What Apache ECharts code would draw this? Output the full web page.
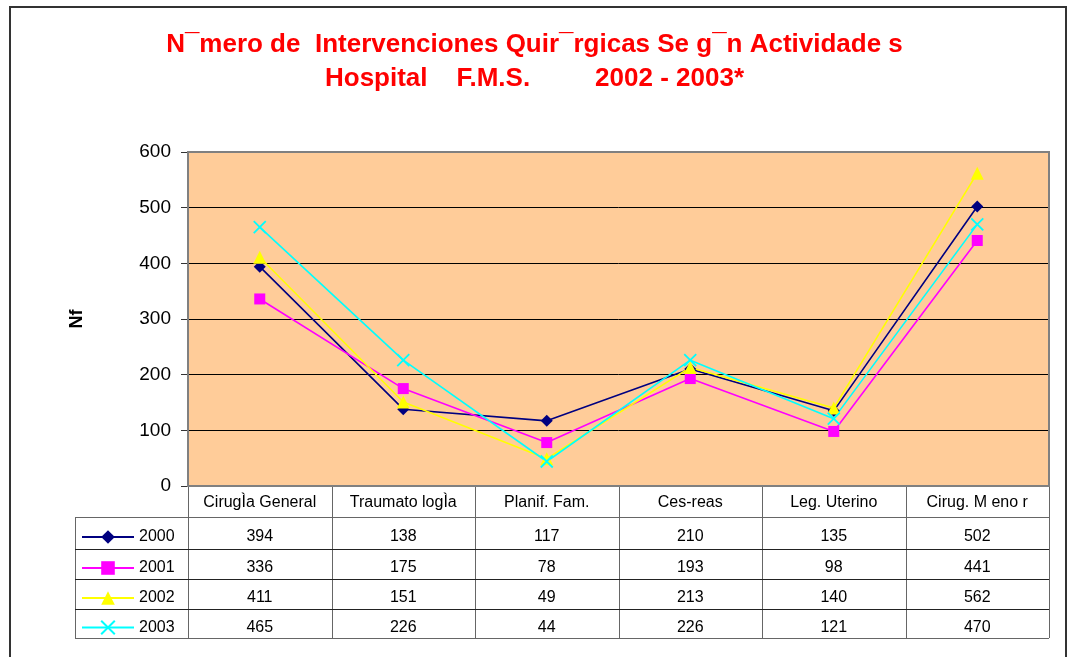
<!DOCTYPE html>
<html>
<head>
<meta charset="utf-8">
<script src="https://cdn.jsdelivr.net/npm/echarts@6/dist/echarts.min.js"></script>
<style>
html,body{margin:0;padding:0;background:#fff;}
#main{width:1069px;height:657px;}
</style>
</head>
<body>
<div id="main"></div>
<script>
// categorias y datos
var categorias = ["CirugÌa General", "Traumato logÌa", "Planif. Fam.", "Ces-reas", "Leg. Uterino", "Cirug. M eno r"];
var anios = ["2000", "2001", "2002", "2003"];
var datos2000 = [394, 138, 117, 210, 135, 502];
var datos2001 = [336, 175, 78, 193, 98, 441];
var datos2002 = [411, 151, 49, 213, 140, 562];
var datos2003 = [465, 226, 44, 226, 121, 470];
var ejeY = [0, 100, 200, 300, 400, 500, 600];

var series_datos = [datos2000, datos2001, datos2002, datos2003];
var colores = ["#000080", "#FF00FF", "#FFFF00", "#00FFFF"];
var simbolos = ["diamond", "rect", "triangle", "path://M0,0L10,10M10,0L0,10"];
var tamanos = [12, 11, 13, 12];

var fuente = "Arial, 'Liberation Sans', sans-serif";
var filas = [517, 549, 579, 609, 638]; // lineas de la tabla
var myChart = echarts.init(document.getElementById("main"));

var series = [];
var leyendas = [];
for (var i = 0; i < anios.length; i++) {
    series.push({
        name: anios[i],
        type: "line",
        data: series_datos[i],
        symbol: simbolos[i],
        symbolSize: tamanos[i],
        lineStyle: { color: colores[i], width: 1.6 },
        itemStyle: { color: colores[i], borderColor: colores[i], borderWidth: i == 3 ? 1.8 : 0 },
        emphasis: { disabled: true },
        z: 3
    });
    // una leyenda por fila de la tabla
    var yc = (filas[i] + filas[i + 1]) / 2 + 4;
    leyendas.push({
        left: 81,
        top: yc - 9,
        itemWidth: 52,
        itemHeight: 17,
        itemGap: 0,
        padding: 0,
        textStyle: { fontSize: 16, color: "#000", fontFamily: fuente, lineHeight: 18 },
        data: [anios[i]]
    });
}

var option = {
    animation: false,
    backgroundColor: "#fff",
    title: {
        text: "N¯mero de  Intervenciones Quir¯rgicas Se g¯n Actividade s\nHospital    F.M.S.         2002 - 2003*",
        left: "center",
        top: 23,
        textStyle: { color: "#FF0000", fontSize: 26, fontWeight: "bold", fontFamily: fuente, lineHeight: 34 }
    },
    legend: leyendas,
    grid: {
        left: 188, right: 20, top: 152, bottom: 171,
        show: true,
        backgroundColor: "#FFCC99",
        borderWidth: 0
    },
    xAxis: {
        type: "category",
        data: categorias,
        boundaryGap: true,
        axisLine: { show: false },
        axisTick: { show: false },
        axisLabel: { fontSize: 16, color: "#000", fontFamily: fuente, margin: 9, interval: 0 }
    },
    yAxis: {
        type: "value",
        min: ejeY[0],
        max: ejeY[ejeY.length - 1],
        interval: 100,
        name: "Nf",
        nameLocation: "middle",
        nameRotate: 90,
        nameGap: 102,
        nameTextStyle: { fontSize: 18, fontWeight: "bold", color: "#000", fontFamily: fuente },
        axisLine: { show: false },
        axisTick: { show: true, length: 7, lineStyle: { color: "#333" } },
        axisLabel: { fontSize: 19, color: "#000", fontFamily: fuente, margin: 17 },
        splitLine: { show: true, lineStyle: { color: "#000", width: 1 } }
    },
    series: series
};
myChart.setOption(option);

// tabla de datos debajo del grafico
function dibujarTabla() {
    var centros = [];
    for (var i = 0; i < categorias.length; i++) {
        centros.push(myChart.convertToPixel({ xAxisIndex: 0 }, categorias[i]));
    }
    var paso = centros[1] - centros[0];
    var x0 = centros[0] - paso / 2;
    var x1 = centros[centros.length - 1] + paso / 2;
    var yTop = myChart.convertToPixel({ yAxisIndex: 0 }, ejeY[ejeY.length - 1]);
    var yBase = myChart.convertToPixel({ yAxisIndex: 0 }, 0);
    var izq = 75;
    var g = [];
    // marco exterior
    g.push({ type: "rect", shape: { x: 10, y: 7, width: 1056, height: 700 }, style: { fill: null, stroke: "#333", lineWidth: 2 }, silent: true });
    // borde del area del grafico
    g.push({ type: "rect", z: 10, shape: { x: x0, y: yTop, width: x1 - x0, height: yBase - yTop }, style: { fill: null, stroke: "#808080", lineWidth: 2 }, silent: true });
    // lineas verticales
    for (var k = 0; k <= categorias.length; k++) {
        var x = Math.round(x0 + k * paso) + 0.5;
        g.push({ type: "line", shape: { x1: x, y1: yBase, x2: x, y2: filas[4] }, style: { stroke: "#666", lineWidth: 1 }, silent: true });
    }
    g.push({ type: "line", shape: { x1: izq + 0.5, y1: filas[0], x2: izq + 0.5, y2: filas[4] }, style: { stroke: "#666", lineWidth: 1 }, silent: true });
    // lineas horizontales
    for (var r = 0; r < filas.length; r++) {
        g.push({ type: "line", shape: { x1: izq, y1: filas[r] + 0.5, x2: x1, y2: filas[r] + 0.5 }, style: { stroke: r == 0 || r == 4 ? "#666" : "#222", lineWidth: 1 }, silent: true });
    }
    // valores
    for (var s = 0; s < series_datos.length; s++) {
        var yc = (filas[s] + filas[s + 1]) / 2 + 4;
        for (var c = 0; c < categorias.length; c++) {
            g.push({
                type: "text",
                x: centros[c], y: yc,
                style: { text: String(series_datos[s][c]), fill: "#000", font: "16px " + fuente, align: "center", verticalAlign: "middle" },
                silent: true
            });
        }
    }
    myChart.setOption({ graphic: g });
}
dibujarTabla();
</script>
</body>
</html>
